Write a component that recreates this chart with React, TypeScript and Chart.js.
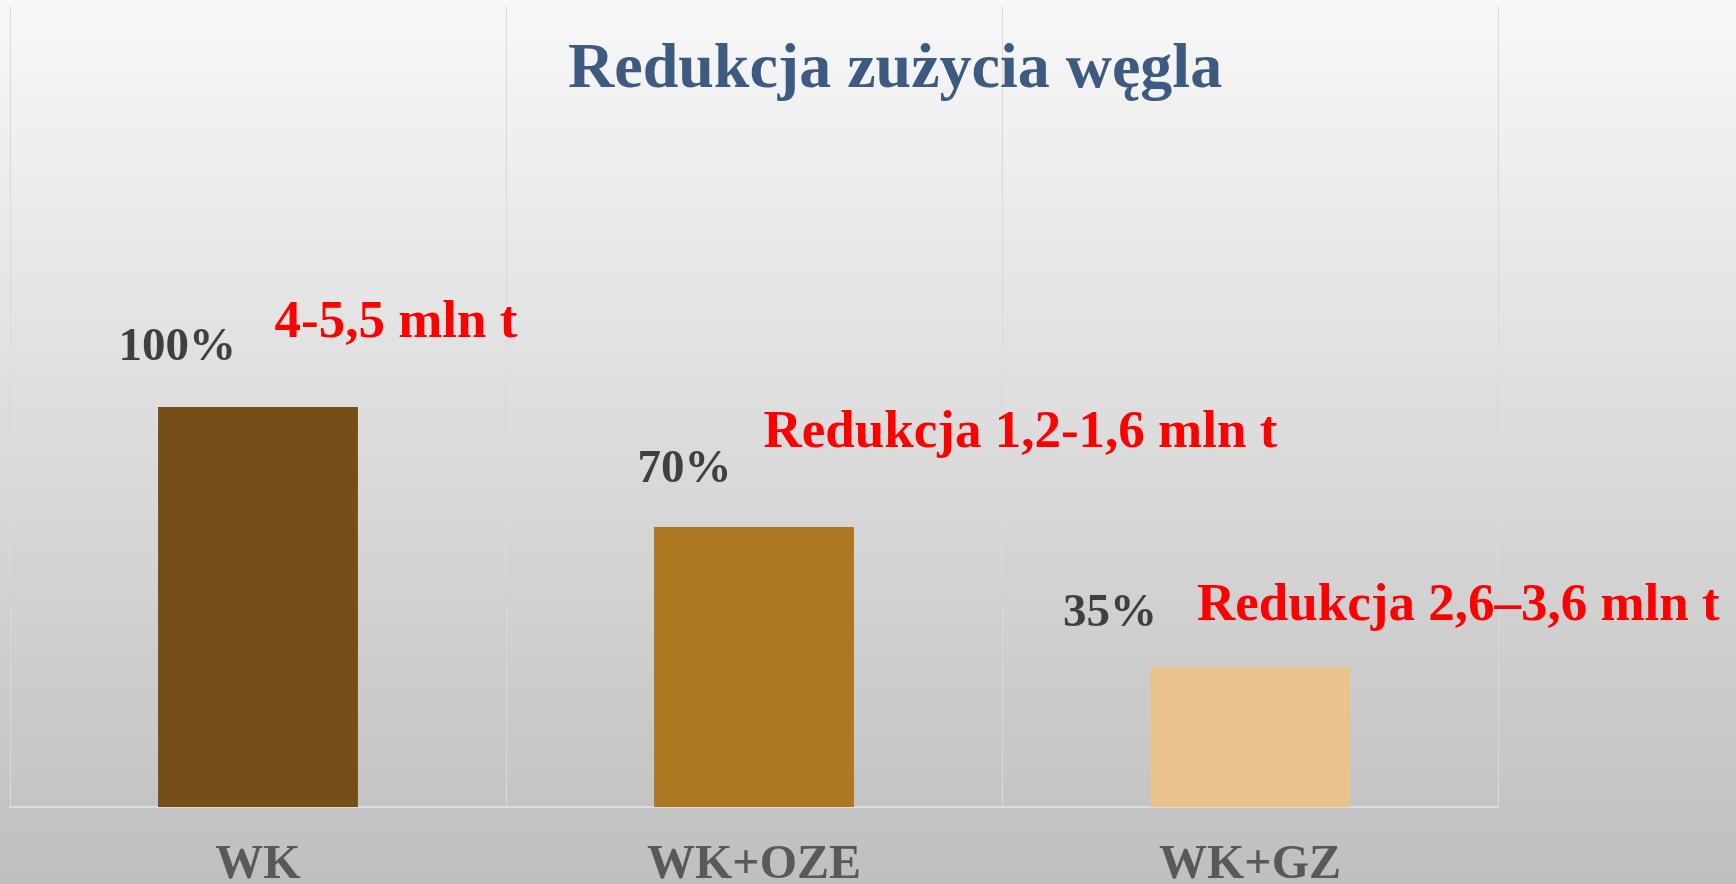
import React, { useEffect, useRef } from 'react';
import { Chart, registerables } from 'chart.js';

Chart.register(...registerables);

// ---- data ----
const categories = ['WK', 'WK+OZE', 'WK+GZ'];
const values = [100, 70, 35];
const percentLabels = ['100%', '70%', '35%'];
const amountLabels = ['4-5,5 mln t', 'Redukcja 1,2-1,6 mln t', 'Redukcja 2,6–3,6 mln t'];
const barColors = ['#745018', '#AE7823', '#E8C48C'];
const yMax = 200;
const titleText = 'Redukcja zużycia węgla';

// ---- annotation placement (px, relative to each bar's top-centre) ----
const percentOffsets: number[][] = [[-139.5, -47], [-116.5, -45], [-187, -41]];
const amountOffsets: number[][] = [[16.5, -70], [9.5, -80], [-53, -47]];

const FONT = '"Liberation Serif", "Times New Roman", Times, serif';
const W = 1736;
const H = 884;

const decorPlugin = {
  id: 'decor',
  beforeDraw(chart: any) {
    const { ctx, width, height } = chart;
    const g = ctx.createLinearGradient(0, 0, 0, height);
    g.addColorStop(0, '#f8f8f8');
    g.addColorStop(1, '#bfbfbf');
    ctx.save();
    ctx.fillStyle = g;
    ctx.fillRect(0, 0, width, height);
    ctx.restore();
  },
  afterDraw(chart: any) {
    const { ctx } = chart;
    const meta = chart.getDatasetMeta(0);
    ctx.save();
    ctx.textAlign = 'left';
    ctx.textBaseline = 'alphabetic';
    ctx.font = `bold 64px ${FONT}`;
    ctx.fillStyle = '#3D5A80';
    ctx.fillText(titleText, 568, 87);
    meta.data.forEach((bar: any, i: number) => {
      const { x, y } = bar.getProps(['x', 'y'], true);
      ctx.font = `bold 47px ${FONT}`;
      ctx.fillStyle = '#404040';
      ctx.fillText(percentLabels[i], x + percentOffsets[i][0], y + percentOffsets[i][1]);
      ctx.font = `bold 53px ${FONT}`;
      ctx.fillStyle = '#FF0000';
      ctx.fillText(amountLabels[i], x + amountOffsets[i][0], y + amountOffsets[i][1]);
    });
    ctx.restore();
  },
};

export default function App() {
  const ref = useRef<HTMLCanvasElement | null>(null);

  useEffect(() => {
    if (!ref.current) return;
    const chart = new Chart(ref.current, {
      type: 'bar',
      data: {
        labels: categories,
        datasets: [
          {
            data: values,
            backgroundColor: barColors,
            borderWidth: 0,
            categoryPercentage: 1,
            barPercentage: 0.403,
          },
        ],
      },
      options: {
        responsive: false,
        animation: false,
        layout: { padding: { left: 10, right: 238, top: 7, bottom: 0 } },
        plugins: {
          legend: { display: false },
          title: { display: false },
          tooltip: { enabled: false },
        },
        scales: {
          x: {
            offset: true,
            grid: {
              display: true,
              offset: true,
              color: '#d9d9d9',
              lineWidth: 1,
              drawTicks: false,
            },
            border: { display: true, color: '#dcdcdc', width: 2 },
            ticks: {
              color: '#595959',
              padding: 30,
              font: { family: FONT, size: 48, weight: 'bold' },
              maxRotation: 0,
            },
            afterFit: (scale: any) => {
              scale.height = 77;
            },
          },
          y: {
            display: false,
            min: 0,
            max: yMax,
          },
        },
      },
      plugins: [decorPlugin],
    });
    return () => chart.destroy();
  }, []);

  return (
    <div style={{ position: 'fixed', left: 0, top: 0, width: W, height: H }}>
      <canvas ref={ref} width={W} height={H} style={{ display: 'block', width: W, height: H }} />
    </div>
  );
}
